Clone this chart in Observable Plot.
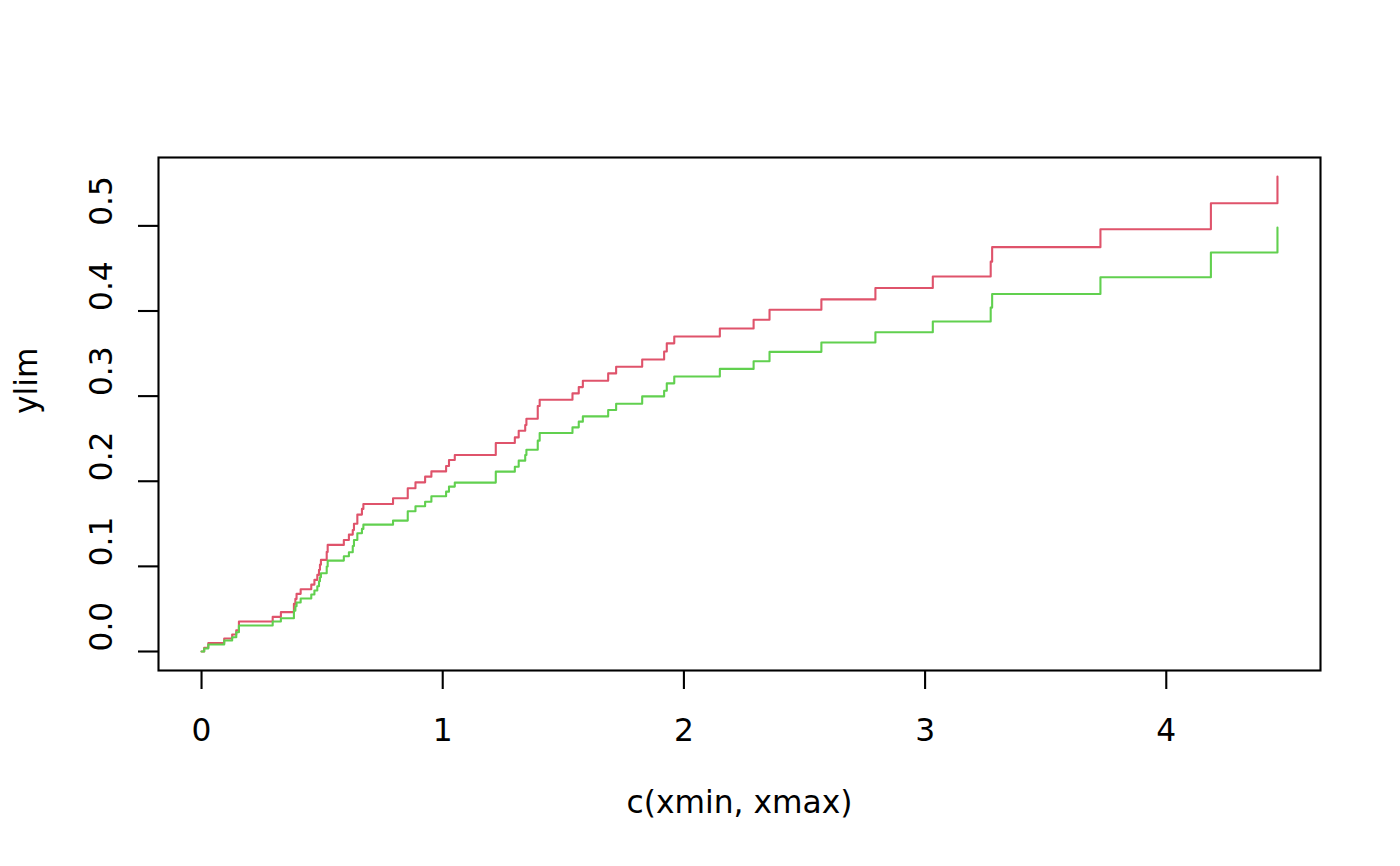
<!DOCTYPE html>
<html>
<head>
<meta charset="utf-8">
<script src="https://cdn.jsdelivr.net/npm/d3@7"></script>
<script src="https://cdn.jsdelivr.net/npm/@observablehq/plot@0.6"></script>
<style>
  html, body { margin: 0; padding: 0; background: #fff; }
  svg { display: block; }
  svg text { font-family: "DejaVu Sans", sans-serif !important; }
</style>
</head>
<body>
<div id="chart"></div>
<script>
// Event times (shared by both curves)
const times = [
  0, 0.011, 0.028, 0.094, 0.127, 0.144, 0.155,
  0.295, 0.329,
  0.383, 0.389, 0.394, 0.411,
  0.455, 0.468, 0.480, 0.487, 0.491, 0.495,
  0.519, 0.523,
  0.590, 0.611, 0.627, 0.632, 0.646, 0.665, 0.671,
  0.794, 0.855, 0.887, 0.927, 0.953,
  1.014, 1.026, 1.050,
  1.220, 1.299, 1.315, 1.342, 1.347,
  1.394, 1.402,
  1.538, 1.564, 1.581,
  1.686, 1.719, 1.827,
  1.918, 1.929, 1.960,
  2.149, 2.289, 2.355, 2.570,
  2.794, 3.032,
  3.272, 3.278,
  3.727, 4.185, 4.461
];
// Red curve values
const redValues = [
  0, 0.0043, 0.0098, 0.0152, 0.020, 0.025, 0.0352,
  0.0407, 0.0462,
  0.056, 0.0618, 0.0677, 0.0732,
  0.0786, 0.0841, 0.090, 0.0959, 0.102, 0.1076,
  0.117, 0.1252,
  0.131, 0.1373, 0.1428, 0.150, 0.1608, 0.1675, 0.1733,
  0.180, 0.1917, 0.1987, 0.2054, 0.2116,
  0.218, 0.225, 0.2308,
  0.245, 0.2515, 0.2594, 0.266, 0.2735,
  0.2884, 0.2958,
  0.3032, 0.3106, 0.318,
  0.3267, 0.3345, 0.343,
  0.3525, 0.362, 0.370,
  0.3795, 0.3897, 0.4014, 0.4136,
  0.427, 0.4405,
  0.458, 0.475,
  0.496, 0.5266, 0.558
];
// Green curve values
const greenValues = [
  0, 0.0035, 0.0082, 0.0129, 0.0168, 0.0227, 0.0305,
  0.0352, 0.039,
  0.048, 0.0532, 0.0575, 0.0622,
  0.0669, 0.0716, 0.0767, 0.0826, 0.0872, 0.0919,
  0.0998, 0.1068,
  0.1119, 0.1166, 0.124, 0.131, 0.1389, 0.144, 0.149,
  0.1538, 0.1647, 0.1706, 0.176, 0.1823,
  0.1878, 0.1937, 0.1984,
  0.2113, 0.2171, 0.2242, 0.2308, 0.237,
  0.2477, 0.2567,
  0.2633, 0.27, 0.2762,
  0.2837, 0.291, 0.2997,
  0.3063, 0.315, 0.323,
  0.332, 0.341, 0.352, 0.363,
  0.375, 0.3877,
  0.404, 0.420,
  0.4397, 0.4687, 0.498
];
const xTicks = [0, 1, 2, 3, 4];
const yTicks = [0, 0.1, 0.2, 0.3, 0.4, 0.5];
const xLabel = "c(xmin, xmax)";
const yLabel = "ylim";

const redData = times.map((t, i) => ({t, v: redValues[i]}));
const greenData = times.map((t, i) => ({t, v: greenValues[i]}));

// R-style 4% axis expansion
const xmin = 0, xmax = d3.max(times);
const ymin = 0, ymax = d3.max(redValues.concat(greenValues));
const xpad = 0.04 * (xmax - xmin), ypad = 0.04 * (ymax - ymin);

const font = "DejaVu Sans";
const fs = 31.3;

const chart = Plot.plot({
  width: 1400,
  height: 866,
  marginLeft: 158,
  marginRight: 80,
  marginTop: 157,
  marginBottom: 196,
  style: {fontFamily: font, background: "#fff", color: "#000"},
  x: {domain: [xmin - xpad, xmax + xpad], axis: null},
  y: {domain: [ymin - ypad, ymax + ypad], axis: null},
  marks: [
    Plot.line(redData, {x: "t", y: "v", curve: "step-after", stroke: "#DF536B", strokeWidth: 2.1}),
    Plot.line(greenData, {x: "t", y: "v", curve: "step-after", stroke: "#61D04F", strokeWidth: 2.1}),
    Plot.frame({stroke: "#000", strokeWidth: 2.1}),
    Plot.axisX(xTicks, {anchor: "bottom", tickSize: 19, strokeWidth: 2.1, tickFormat: () => "", label: null}),
    Plot.axisY(yTicks, {anchor: "left", tickSize: 20, strokeWidth: 2.1, tickFormat: () => "", label: null}),
    Plot.text(xTicks, {x: d => d, text: d => String(d), frameAnchor: "bottom", lineAnchor: "top", dy: 48, fontSize: fs, fontFamily: font, fill: "#000"}),
    Plot.text(yTicks, {y: d => d, text: d => d.toFixed(1), frameAnchor: "left", dx: -57, rotate: -90, fontSize: fs, fontFamily: font, fill: "#000"}),
    Plot.text([xLabel], {text: d => d, frameAnchor: "bottom", dy: 142, fontSize: fs, fontFamily: font, fill: "#000"}),
    Plot.text([yLabel], {text: d => d, frameAnchor: "left", dx: -132, rotate: -90, fontSize: fs, fontFamily: font, fill: "#000"})
  ]
});
document.getElementById("chart").appendChild(chart);
</script>
</body>
</html>
